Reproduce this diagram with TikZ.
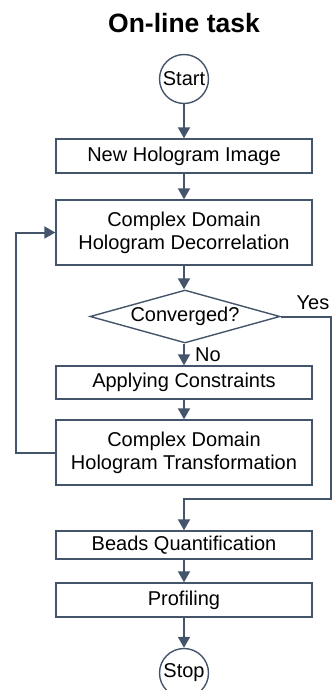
\documentclass[tikz,border=0pt]{standalone}
\usepackage{fontspec}
\setmainfont{Liberation Sans}
\usetikzlibrary{arrows.meta,shapes.geometric}
\definecolor{ln}{HTML}{44546A}
\begin{document}
\begin{tikzpicture}[x=1pt,y=-1pt,
  every node/.style={font=\fontsize{20}{23}\selectfont, text=black},
  box/.style={draw=ln, line width=1.4pt, rectangle, minimum width=256pt, inner sep=0pt, align=center},
  term/.style={draw=ln, line width=1.4pt, circle, minimum size=49pt, inner sep=0pt},
  arr/.style={draw=ln, line width=2pt, -{Triangle[length=11pt,width=12pt]}},
  lbl/.style={inner sep=0pt}
]
\useasboundingbox (0,0) rectangle (332,690);
\node[lbl, font=\fontsize{26.5}{30}\selectfont\bfseries] (title) at (184,23) {On-line task};
\node[term] (start) at (184,79) {Start};
\node[box, minimum height=34pt] (b1) at (184,156) {New Hologram Image};
\node[box, minimum height=65pt] (b2) at (184,232.5) {Complex Domain\\Hologram Decorrelation};
\node[draw=ln, line width=1.4pt, diamond, minimum width=190pt, minimum height=53pt, inner sep=0pt] (dia) at (185,316.5) {};
\node[lbl] (dtxt) at (dia.center) {Converged?};
\node[box, minimum height=33pt] (b3) at (184,382.5) {Applying Constraints};
\node[box, minimum height=65pt] (b4) at (184,452.5) {Complex Domain\\Hologram Transformation};
\node[box, minimum height=28pt] (b5) at (184,545) {Beads Quantification};
\node[box, minimum height=34pt] (b6) at (184,600) {Profiling};
\node[term] (stop) at (184,673) {Stop};
\node[lbl] (yes) at (313,303) {Yes};
\node[lbl] (no) at (208,355) {No};
\coordinate (loopL) at (16,452.5);
\coordinate (yesR) at (331,499);
\draw[arr] (start) -- (b1);
\draw[arr] (b1) -- (b2);
\draw[arr] (b2.south) -- (b2.south |- dia.north);
\draw[arr] (dia.south -| b3.north) -- (b3.north);
\draw[arr] (b3) -- (b4);
\draw[arr] (b4.west) -- (loopL) |- (b2.west);
\draw[arr] (dia.east) -| (yesR) -| (b5.north);
\draw[arr] (b5) -- (b6);
\draw[arr] (b6) -- (stop);
\end{tikzpicture}
\end{document}
